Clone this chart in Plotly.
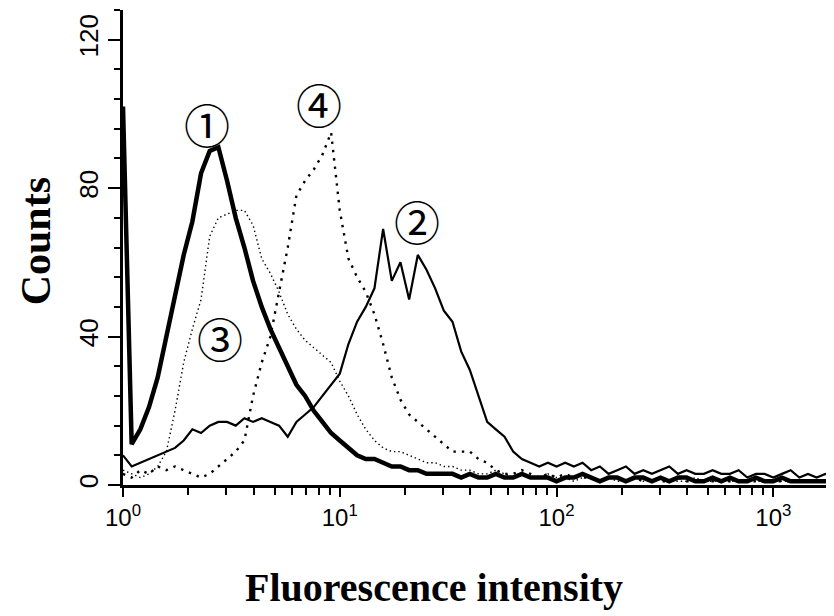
import plotly.graph_objects as go

# Histogram channels: log10 step between successive channels
LOG_STEP = 0.04

# Counts per channel, channel k at 10**(k*LOG_STEP)
curve1 = [102, 11, 15, 21, 29, 40, 51, 62, 71, 84,
          90, 91, 82, 72, 64, 55, 48, 42, 37, 32,
          27, 24, 20, 17, 14, 12, 10, 8, 7, 7,
          6, 5, 5, 4, 4, 3, 3, 3, 3, 2,
          3, 2, 2, 3, 2, 2, 3, 2, 2, 2,
          1, 2, 2, 3, 2, 1, 2, 2, 1, 2,
          2, 1, 2, 1, 2, 2, 1, 1, 2, 1,
          2, 1, 1, 2, 1, 1, 2, 1, 1, 1,
          1, 1, 1]
curve2 = [8, 5, 6, 7, 8, 9, 10, 12, 15, 14,
          16, 17, 17, 16, 18, 17, 18, 17, 16, 13,
          17, 19, 21, 24, 27, 30, 38, 44, 48, 53,
          69, 55, 60, 50, 62, 58, 53, 47, 44, 36,
          31, 24, 17, 15, 13, 9, 7, 6, 5, 6,
          5, 6, 5, 6, 4, 5, 3, 4, 5, 3,
          4, 3, 4, 5, 3, 4, 3, 3, 4, 3,
          3, 4, 2, 3, 3, 2, 3, 4, 2, 3,
          2, 3, 2]
curve3 = [4, 3, 2, 3, 5, 9, 20, 33, 42, 50,
          67, 72, 73, 74, 74, 70, 61, 57, 52, 46,
          42, 39, 37, 35, 33, 28, 24, 19, 15, 12,
          10, 9, 9, 8, 7, 6, 6, 5, 5, 4,
          4, 3, 3, 4, 3, 2, 3, 2, 2, 3,
          2, 2, 1, 2, 2, 1, 2, 1, 1, 2,
          1, 1, 2, 1, 1, 1, 2, 1, 1, 1,
          1, 1, 1, 1, 1, 1, 1, 1, 1, 1,
          1, 1, 1]
curve4 = [3, 2, 4, 3, 5, 4, 5, 4, 3, 2,
          3, 5, 7, 9, 12, 24, 33, 40, 52, 64,
          78, 82, 85, 89, 95, 74, 61, 56, 52, 46,
          38, 29, 23, 19, 17, 15, 13, 11, 9, 9,
          9, 7, 6, 4, 3, 3, 4, 3, 2, 3,
          2, 3, 2, 2, 2, 1, 2, 2, 1, 2,
          1, 2, 1, 1, 2, 1, 1, 1, 1, 1,
          1, 1, 1, 1, 1, 1, 1, 1, 1, 1,
          1, 1, 1]

x_major = [1, 10, 100, 1000]
x_major_text = ["10<sup>0</sup>", "10<sup>1</sup>", "10<sup>2</sup>", "10<sup>3</sup>"]
x_minor = [m * d for d in (1, 10, 100, 1000) for m in range(2, 10)]
y_major = [0, 40, 80, 120]

labels = ["①", "②", "③", "④"]
label_pos = [(0.389, 97.6), (1.356, 71.4), (0.449, 39.9), (0.903, 103.0)]

channels = [10 ** (k * LOG_STEP) for k in range(len(curve1))]

fig = go.Figure()
styles = [
    (curve4, dict(color="black", width=2.4, dash="2.4px,6px")),
    (curve3, dict(color="black", width=1.4, dash="1.4px,3px")),
    (curve2, dict(color="black", width=2.2)),
    (curve1, dict(color="black", width=4.5)),
]
for ys, ln in styles:
    fig.add_trace(go.Scatter(x=channels, y=ys, mode="lines", line=ln,
                             showlegend=False, hoverinfo="skip"))

for t, (lx, ly) in zip(labels, label_pos):
    fig.add_annotation(x=lx, y=ly, xref="x", yref="y", text=t, showarrow=False,
                       font=dict(family="Noto Sans CJK JP", size=46, color="black"),
                       xanchor="center", yanchor="middle")

fig.add_annotation(xref="paper", yref="paper", x=0.437, y=-0.215,
                   text="<b>Fluorescence intensity</b>", showarrow=False,
                   font=dict(family="Liberation Serif", size=40, color="black"),
                   xanchor="center", yanchor="middle")
fig.add_annotation(xref="paper", yref="paper", x=-0.123, y=0.512,
                   text="<b>Counts</b>", showarrow=False, textangle=-90,
                   font=dict(family="Liberation Serif", size=42, color="black"),
                   xanchor="center", yanchor="middle", borderpad=0)

# the page body adds an 8px offset, so the figure is drawn 8px smaller
fig.update_layout(
    width=826, height=608,
    margin=dict(l=115, r=0, t=2, b=131),
    paper_bgcolor="white", plot_bgcolor="white",
    font=dict(family="Liberation Sans", color="black"),
    xaxis=dict(type="log", range=[0, 3.28], showgrid=False, zeroline=False,
               showline=True, linecolor="black", linewidth=3,
               tickmode="array", tickvals=x_major, ticktext=x_major_text,
               ticks="outside", ticklen=9, tickwidth=2, tickcolor="black",
               tickfont=dict(size=24, family="Liberation Sans"),
               minor=dict(tickmode="array", tickvals=x_minor, ticks="outside",
                          ticklen=7, tickwidth=2, tickcolor="black")),
    yaxis=dict(range=[0, 128], showgrid=False, zeroline=False,
               showline=True, linecolor="black", linewidth=3,
               tickmode="array", tickvals=y_major, tickangle=-90,
               ticks="outside", ticklen=12, tickwidth=2, tickcolor="black",
               tickfont=dict(size=26, family="Liberation Sans"),
               minor=dict(dtick=8, tick0=0, ticks="outside", ticklen=6,
                          tickwidth=2, tickcolor="black")),
)

fig.write_html("out.html")
